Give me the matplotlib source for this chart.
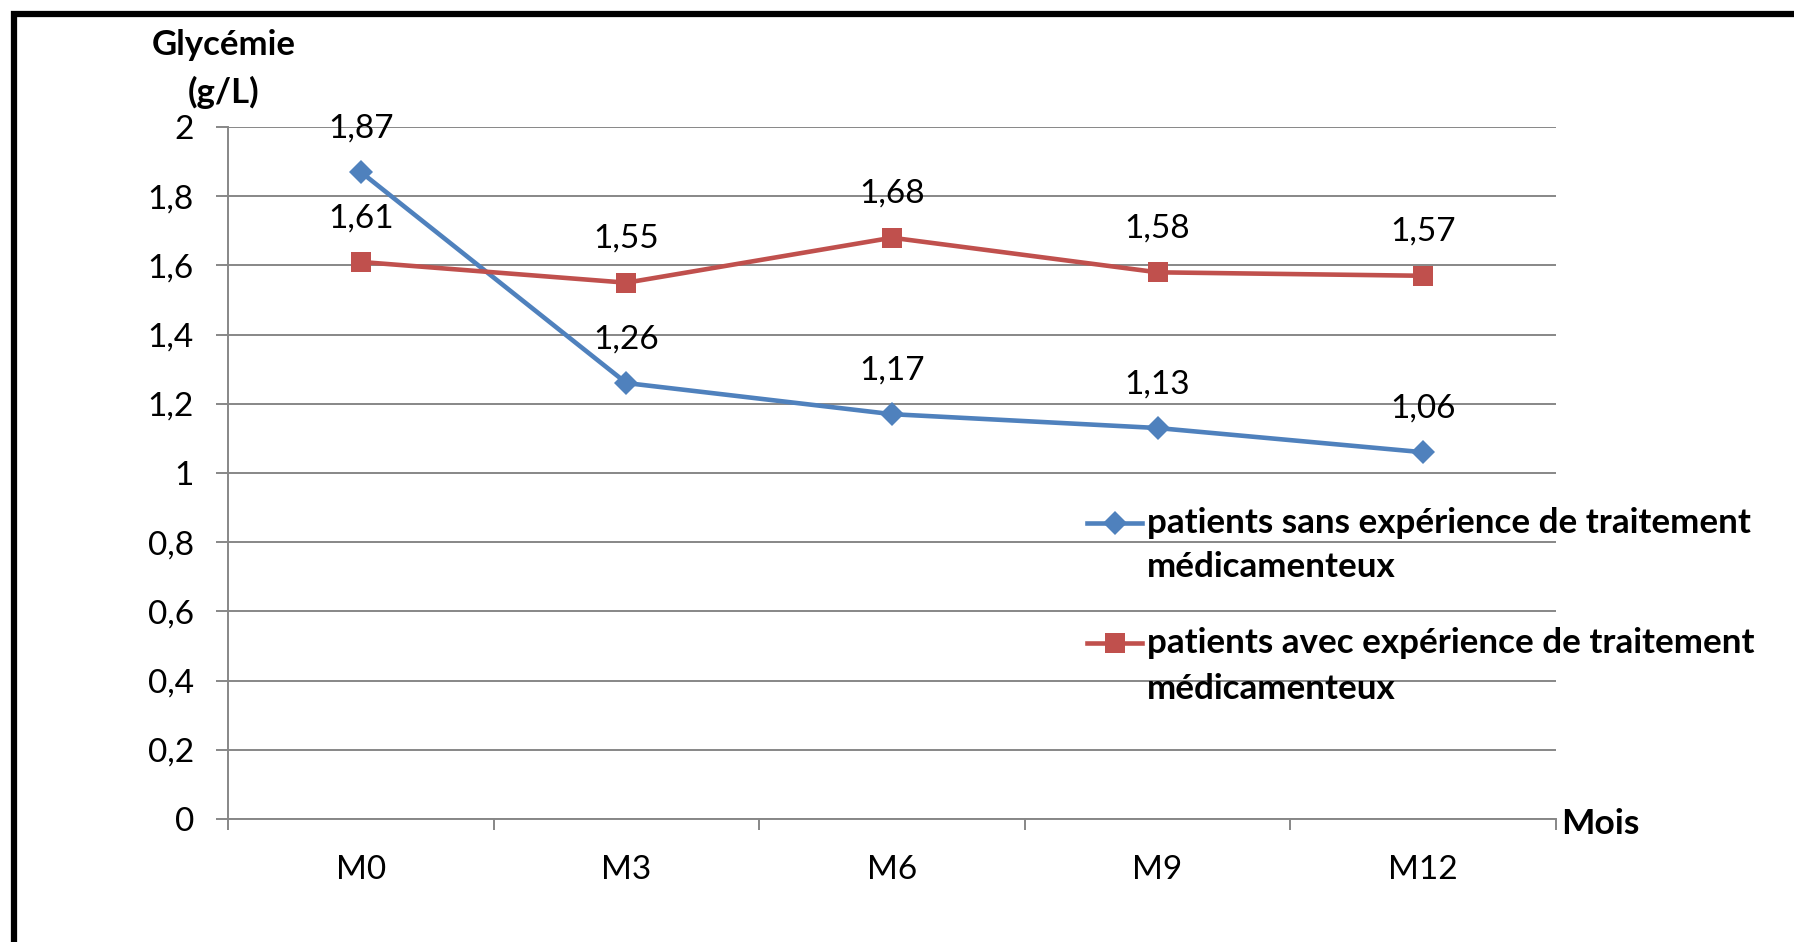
import matplotlib
matplotlib.use("Agg")
import matplotlib.pyplot as plt
from matplotlib.lines import Line2D
from matplotlib.patches import Rectangle

plt.rcParams['font.family'] = ['Lato', 'DejaVu Sans']

categories = ["M0", "M3", "M6", "M9", "M12"]
sans_exp = [1.87, 1.26, 1.17, 1.13, 1.06]
avec_exp = [1.61, 1.55, 1.68, 1.58, 1.57]
series_labels = ["patients sans expérience de traitement\nmédicamenteux",
                 "patients avec expérience de traitement\nmédicamenteux"]
y_ticks = [0, 0.2, 0.4, 0.6, 0.8, 1.0, 1.2, 1.4, 1.6, 1.8, 2.0]
y_tick_labels = ["0", "0,2", "0,4", "0,6", "0,8", "1", "1,2", "1,4", "1,6", "1,8", "2"]
y_title = ["Glycémie", "(g/L)"]
x_title = "Mois"

BLUE = "#4F81BD"
RED = "#C0504D"
GRID = "#878787"

W, H = 1794, 942
fig = plt.figure(figsize=(W / 100, H / 100), dpi=100)
fig.patch.set_facecolor("white")

def fx(px):
    return px / W

def fy(py):
    return 1 - py / H

ax = fig.add_axes([fx(228), fy(819), fx(1556) - fx(228), fy(127) - fy(819)])

x = list(range(len(categories)))
ax.plot(x, sans_exp, color=BLUE, lw=3.3, marker="D", markersize=12,
        markeredgewidth=0, zorder=3, solid_joinstyle="round")
ax.plot(x, avec_exp, color=RED, lw=3.3, marker="s", markersize=14.5,
        markeredgewidth=0, zorder=3, solid_joinstyle="round")

def fmt(v):
    return ("%g" % v).replace(".", ",")

for xi, v in zip(x, sans_exp):
    ax.annotate(fmt(v), (xi, v), xytext=(0, 31.5), textcoords="offset points",
                ha="center", va="center", fontsize=24, color="black")
for xi, v in zip(x, avec_exp):
    ax.annotate(fmt(v), (xi, v), xytext=(0, 31.5), textcoords="offset points",
                ha="center", va="center", fontsize=24, color="black")

ax.set_xlim(-0.5, len(categories) - 0.5)
ax.set_ylim(0, 2)
ax.set_yticks(y_ticks)
ax.set_yticklabels(y_tick_labels, fontsize=24)
ax.grid(axis="y", color=GRID, lw=1.4)
ax.set_axisbelow(True)

ax.set_xticks(x)
ax.set_xticklabels(categories, fontsize=24)
ax.set_xticks([i - 0.5 for i in range(len(categories) + 1)], minor=True)
ax.tick_params(axis="x", which="major", length=0, pad=26)
ax.tick_params(axis="x", which="minor", length=8, width=1.4, color=GRID, direction="out")
ax.tick_params(axis="y", length=8.5, width=1.4, color=GRID, direction="out", pad=16)

for s in ["top", "right"]:
    ax.spines[s].set_visible(False)
for s in ["left", "bottom"]:
    ax.spines[s].set_color(GRID)
    ax.spines[s].set_linewidth(1.4)

# axis titles
fig.text(fx(224), fy(45), y_title[0], ha="center", va="center", fontsize=25, fontweight="bold")
fig.text(fx(224), fy(92), y_title[1], ha="center", va="center", fontsize=25, fontweight="bold")
fig.text(fx(1561), fy(824), x_title, ha="left", va="center", fontsize=25.5, fontweight="bold")

# legend (manual)
leg_rows = [(523, 567, BLUE, "D", 12), (643, 689, RED, "s", 14.5)]
for (y1, y2, col, mk, ms), lab in zip(leg_rows, series_labels):
    fig.add_artist(Line2D([fx(1087), fx(1142)], [fy(y1), fy(y1)], color=col, lw=3.3,
                          transform=fig.transFigure))
    fig.add_artist(Line2D([fx(1114.5)], [fy(y1)], color=col, marker=mk, markersize=ms,
                          markeredgewidth=0, transform=fig.transFigure))
    l1, l2 = lab.split("\n")
    fig.text(fx(1147), fy(y1), l1, ha="left", va="center", fontsize=25.2, fontweight="bold")
    fig.text(fx(1147), fy(y2), l2, ha="left", va="center", fontsize=25.2, fontweight="bold")

# outer black frame (cropped on right/bottom)
fig.add_artist(Rectangle((fx(14), fy(H + 20)), 1.2, fy(14) - fy(H + 20), fill=False,
                         edgecolor="black", lw=4.5, transform=fig.transFigure,
                         clip_on=False))

fig.savefig("out.png", dpi=100, facecolor="white")
